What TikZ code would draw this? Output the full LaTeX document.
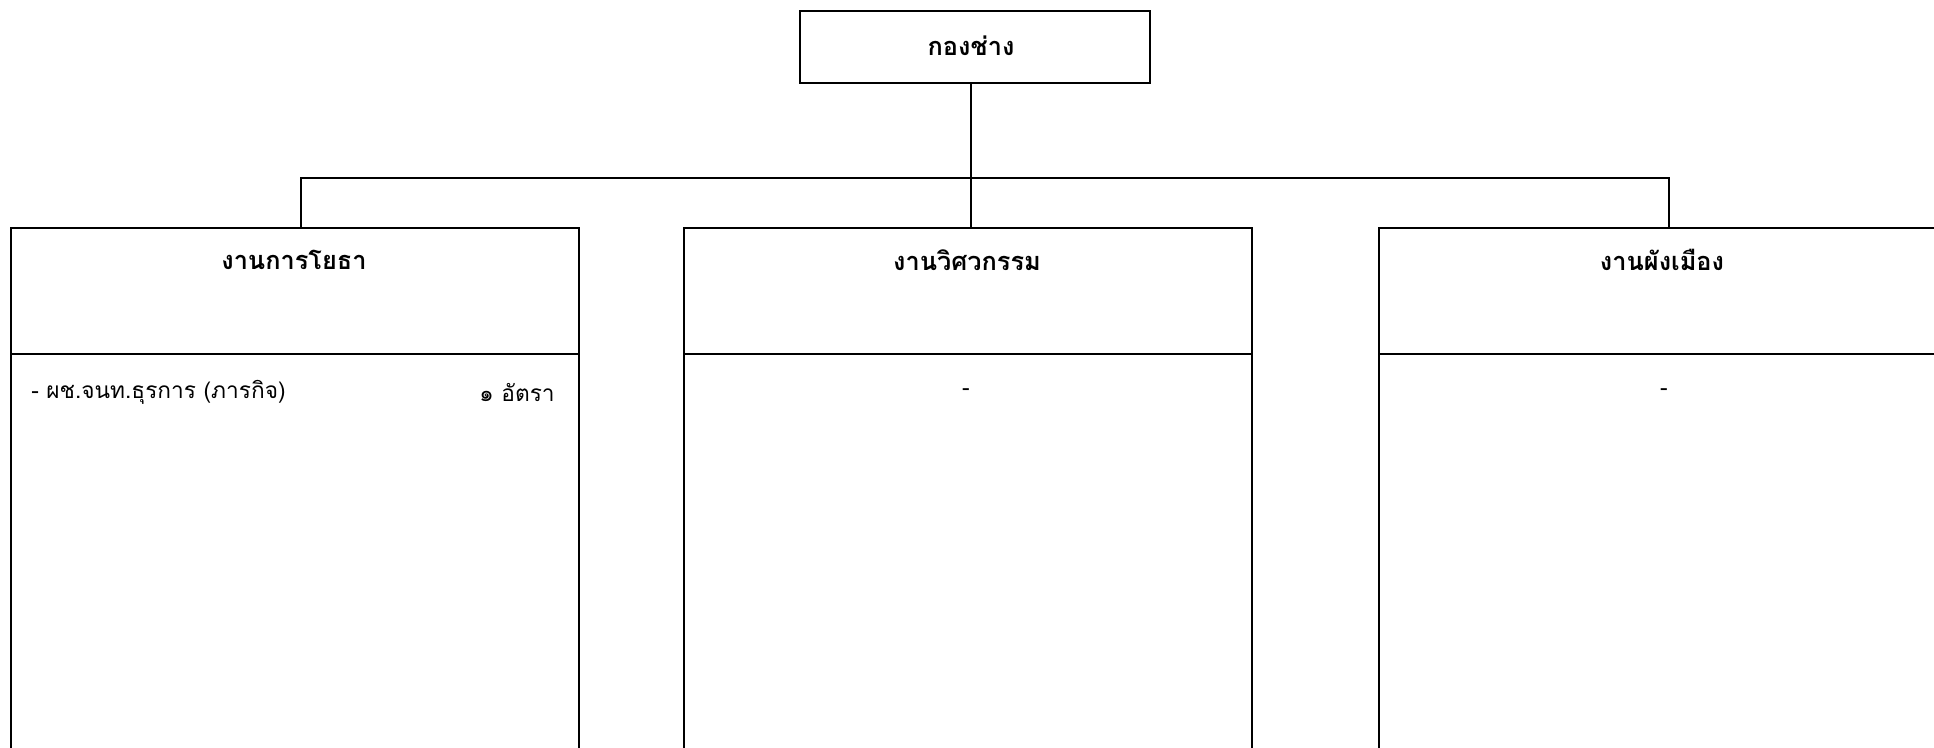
\documentclass[tikz,border=0pt]{standalone}
\usepackage{fontspec}
\newfontfamily\thaifont[Script=Thai]{Loma}
\begin{document}
\begin{tikzpicture}[x=0.75pt,y=-0.75pt,
  line/.style={line width=1.5pt,black},
  unitbox/.style={draw,line width=1.5pt,rectangle,minimum width=568*0.75pt,minimum height=534*0.75pt,inner sep=0pt,anchor=north west},
  topbox/.style={draw,line width=1.5pt,rectangle,minimum width=350*0.75pt,minimum height=72*0.75pt,inner sep=0pt,anchor=north west},
  title/.style={font=\thaifont\bfseries\fontsize{19pt}{23pt}\selectfont,inner sep=0pt},
  body/.style={font=\thaifont\fontsize{17pt}{21pt}\selectfont,inner sep=0pt}]
\useasboundingbox (0,0) rectangle (1934,748);
\clip (0,0) rectangle (1934,748);
% boxes
\node[topbox] (top) at (799,10) {};
\node[unitbox] (b1) at (10,227) {};
\node[unitbox] (b2) at (683,227) {};
\node[unitbox] (b3) at (1378,227) {};
% dividers
\coordinate (d1) at (10,354);
\coordinate (d2) at (683,354);
\coordinate (d3) at (1378,354);
\draw[line] (d1) -- (d1 -| b1.east);
\draw[line] (d2) -- (d2 -| b2.east);
\draw[line] (d3) -- (d3 -| b3.east);
% connectors
\coordinate (jl) at (301,178);
\coordinate (jm) at (971,178);
\coordinate (jr) at (1669,178);
\draw[line] (top.south -| jm) -- (b2.north -| jm);
\draw[line] (b1.north -| jl) -- (jl) -- (jr) -- (b3.north -| jr);
% titles
\node[title] (t0) at (971,46) {กองช่าง};
\node[title] (t1) at (294,260) {งานการโยธา};
\node[title] (t2) at (967,260) {งานวิศวกรรม};
\node[title] (t3) at (1662,260) {งานผังเมือง};
% body
\node[body,anchor=west] (p1) at (31,392) {- ผช.จนท.ธุรการ (ภารกิจ)};
\node[body,anchor=east] (n1) at (555,392) {๑ อัตรา};
\node[body] (p2) at (966,392) {-};
\node[body] (p3) at (1664,392) {-};
\end{tikzpicture}
\end{document}
